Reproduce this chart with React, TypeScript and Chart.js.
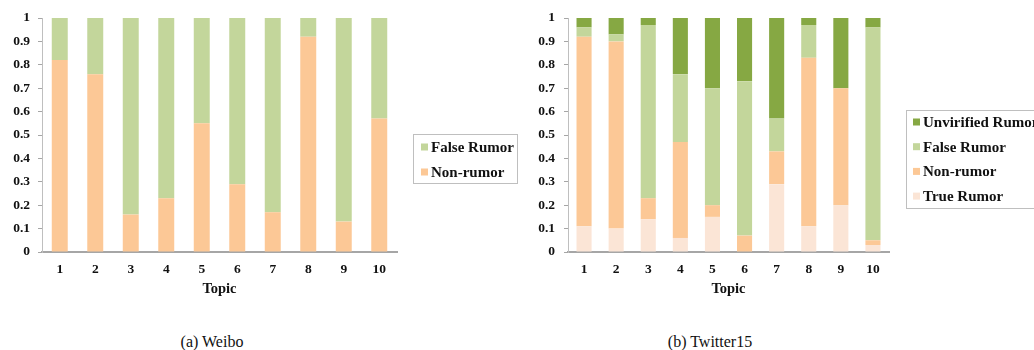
import React, { useEffect, useRef } from "react";
import { Chart, registerables } from "chart.js";

Chart.register(...registerables);

const topics = ["1", "2", "3", "4", "5", "6", "7", "8", "9", "10"];
const yTickLabels = ["0", "0.1", "0.2", "0.3", "0.4", "0.5", "0.6", "0.7", "0.8", "0.9", "1"];

// (a) Weibo
const weiboNonRumor = [0.82, 0.76, 0.16, 0.23, 0.55, 0.29, 0.17, 0.92, 0.13, 0.57];
const weiboFalseRumor = [0.18, 0.24, 0.84, 0.77, 0.45, 0.71, 0.83, 0.08, 0.87, 0.43];

// (b) Twitter15
const twTrueRumor = [0.11, 0.1, 0.14, 0.06, 0.15, 0.0, 0.29, 0.11, 0.2, 0.03];
const twNonRumor = [0.81, 0.8, 0.09, 0.41, 0.05, 0.07, 0.14, 0.72, 0.5, 0.02];
const twFalseRumor = [0.04, 0.03, 0.74, 0.29, 0.5, 0.66, 0.14, 0.14, 0.0, 0.91];
const twUnverified = [0.04, 0.07, 0.03, 0.24, 0.3, 0.27, 0.43, 0.03, 0.3, 0.04];

const C_TRUE = "#FBE5D6";
const C_NON = "#FCC896";
const C_FALSE = "#C3D69B";
const C_UNV = "#86A843";

const FONT = '"Liberation Serif", "Times New Roman", serif';

type Area = { left: number; right: number; top: number; bottom: number };
type LegendCfg = { x: number; y: number; w: number; h: number; y0: number; step: number; markerX: number; textX: number };

function StackedChart(props: {
  width: number;
  height: number;
  left: number;
  area: Area;
  datasets: any[];
  barPct: number;
  yPad: number;
  legend: LegendCfg;
}) {
  const ref = useRef<HTMLCanvasElement | null>(null);
  useEffect(() => {
    if (!ref.current) return;
    const { width, height, area, legend } = props;
    const legendPlugin = {
      id: "boxLegend",
      afterDraw(chart: any) {
        const ctx = chart.ctx;
        ctx.save();
        ctx.strokeStyle = "#BFBFBF";
        ctx.lineWidth = 1;
        ctx.strokeRect(legend.x + 0.5, legend.y + 0.5, legend.w, legend.h);
        const ds = chart.data.datasets.slice().reverse();
        ctx.font = `bold 15px ${FONT}`;
        ctx.textBaseline = "middle";
        ctx.textAlign = "left";
        ds.forEach((d: any, i: number) => {
          const y = legend.y0 + i * legend.step;
          ctx.fillStyle = d.backgroundColor;
          ctx.fillRect(legend.markerX, y - 3.5, 7, 7);
          ctx.fillStyle = "#111";
          ctx.fillText(d.label, legend.textX, y + 1);
        });
        ctx.restore();
      },
    };
    const chart = new Chart(ref.current, {
      type: "bar",
      data: {
        labels: topics,
        datasets: props.datasets.map((d) => ({
          ...d,
          borderWidth: 0,
          barPercentage: props.barPct,
          categoryPercentage: 1,
        })),
      },
      options: {
        responsive: false,
        animation: false,
        layout: { padding: { left: 0, top: area.top, right: width - area.right, bottom: 0 } },
        plugins: { legend: { display: false }, tooltip: { enabled: false } },
        scales: {
          x: {
            stacked: true,
            grid: { display: false, drawTicks: false },
            border: { display: true, color: "#A6A6A6", width: 2 },
            ticks: { padding: 9, color: "#111", font: { family: FONT, size: 13.5, weight: "bold" } },
            title: {
              display: true,
              text: "Topic",
              color: "#111",
              font: { family: FONT, size: 14.5, weight: "bold" },
              padding: { top: 0, bottom: 2 },
            },
            afterFit: (s: any) => {
              s.height = height - area.bottom;
            },
          },
          y: {
            stacked: true,
            min: 0,
            max: 1,
            ticks: {
              stepSize: 0.1,
              padding: props.yPad,
              color: "#111",
              font: { family: FONT, size: 13.5, weight: "bold" },
              callback: (_v: any, i: number) => yTickLabels[i],
            },
            grid: { drawOnChartArea: false, drawTicks: true, tickLength: 4, color: "#A6A6A6" },
            border: { display: true, color: "#BFBFBF", width: 1 },
            afterFit: (s: any) => {
              s.width = area.left;
            },
          },
        },
      } as any,
      plugins: [legendPlugin],
    });
    return () => chart.destroy();
  }, []);
  return (
    <canvas
      ref={ref}
      width={props.width}
      height={props.height}
      style={{ position: "absolute", left: props.left, top: 0, width: props.width, height: props.height, display: "block" }}
    />
  );
}

export default function App() {
  return (
    <div style={{ position: "absolute", left: 0, top: 0, width: 1034, height: 350, background: "#fff", overflow: "hidden" }}>
      <StackedChart
        width={530}
        height={300}
        left={0}
        area={{ left: 42, right: 397, top: 18, bottom: 252 }}
        barPct={0.45}
        yPad={8}
        datasets={[
          { label: "Non-rumor", data: weiboNonRumor, backgroundColor: C_NON },
          { label: "False Rumor", data: weiboFalseRumor, backgroundColor: C_FALSE },
        ]}
        legend={{ x: 413, y: 134, w: 104, h: 49, y0: 147, step: 25, markerX: 421, textX: 431 }}
      />
      <StackedChart
        width={504}
        height={300}
        left={530}
        area={{ left: 38, right: 359, top: 18, bottom: 252 }}
        barPct={0.47}
        yPad={9}
        datasets={[
          { label: "True Rumor", data: twTrueRumor, backgroundColor: C_TRUE },
          { label: "Non-rumor", data: twNonRumor, backgroundColor: C_NON },
          { label: "False Rumor", data: twFalseRumor, backgroundColor: C_FALSE },
          { label: "Unvirified Rumor", data: twUnverified, backgroundColor: C_UNV },
        ]}
        legend={{ x: 376, y: 110, w: 150, h: 98, y0: 122, step: 24.7, markerX: 383, textX: 393 }}
      />
      <div
        style={{ position: "absolute", left: 212, top: 333, transform: "translateX(-50%)", font: `16px ${FONT}`, color: "#111", whiteSpace: "nowrap" }}
      >
        (a) Weibo
      </div>
      <div
        style={{ position: "absolute", left: 710, top: 333, transform: "translateX(-50%)", font: `16px ${FONT}`, color: "#111", whiteSpace: "nowrap" }}
      >
        (b) Twitter15
      </div>
    </div>
  );
}
